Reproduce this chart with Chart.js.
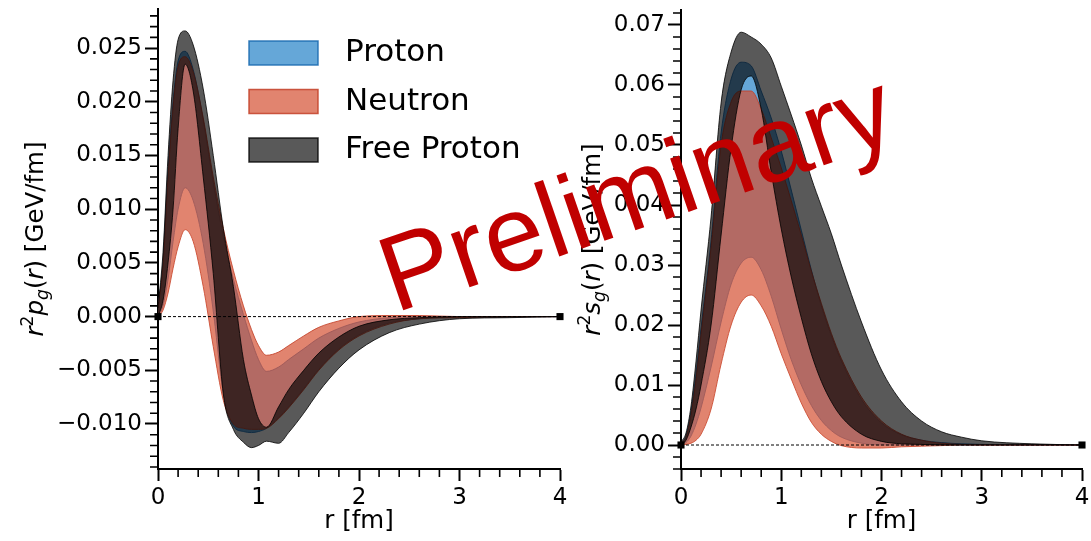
<!DOCTYPE html>
<html lang="en">
<head>
<meta charset="UTF-8">
<title>Gluon pressure and shear distributions</title>
<script src="https://cdn.jsdelivr.net/npm/chart.js"></script>
<style>
  html, body { margin: 0; padding: 0; background: #fff; }
  .wrap { position: relative; width: 1091px; height: 541px; overflow: hidden; }
  .wrap canvas { position: absolute; left: 0; top: 0; }
</style>
</head>
<body>
<div class="wrap">
  <canvas id="pressureChart" width="1091" height="541"></canvas>
  <canvas id="shearChart" width="1091" height="541"></canvas>
</div>
<script>
// ---- data ----
const bandLabels = ['Proton', 'Neutron', 'Free Proton'];
const rTicks = [0, 1, 2, 3, 4];
const pTicks = [-0.010, -0.005, 0.000, 0.005, 0.010, 0.015, 0.020, 0.025];
const sTicks = [0.00, 0.01, 0.02, 0.03, 0.04, 0.05, 0.06, 0.07];

// left panel: r^2 p_g(r)
const pR =            [0, 0.05, 0.1, 0.15, 0.2, 0.27, 0.35, 0.45, 0.55, 0.65, 0.75, 0.85, 0.93, 1.0, 1.08, 1.2, 1.3, 1.45, 1.6, 1.8, 2.0, 2.3, 2.6, 3.0, 3.5, 4.0];
const pProtonHi =     [0.0008, 0.0050, 0.0135, 0.0200, 0.0238, 0.0247, 0.0230, 0.0183, 0.0125, 0.0075, 0.0035, 0.0002, -0.0022, -0.0040, -0.0051, -0.0047, -0.0040, -0.0030, -0.0020, -0.0011, -0.0005, -0.0001, 0, 0, 0, 0];
const pProtonLo =     [0, 0.0010, 0.0035, 0.0070, 0.0100, 0.0120, 0.0108, 0.0068, 0.0005, -0.0072, -0.0102, -0.0107, -0.0108, -0.0107, -0.0104, -0.0094, -0.0084, -0.0067, -0.0049, -0.0030, -0.0017, -0.0006, -0.0002, 0, 0, 0];
const pNeutronHi =    [0.0008, 0.0048, 0.0130, 0.0195, 0.0233, 0.0242, 0.0228, 0.0185, 0.0130, 0.0082, 0.0043, 0.0010, -0.0012, -0.0027, -0.0036, -0.0033, -0.0027, -0.0018, -0.0010, -0.0004, 0.0000, 0.0001, 0.0001, 0, 0, 0];
const pNeutronLo =    [0, 0.0006, 0.0022, 0.0045, 0.0065, 0.0081, 0.0070, 0.0028, -0.0028, -0.0078, -0.0100, -0.0104, -0.0105, -0.0105, -0.0104, -0.0095, -0.0085, -0.0068, -0.0050, -0.0031, -0.0018, -0.0007, -0.0002, -0.0001, 0, 0];
const pFreeHi =       [0.0008, 0.0060, 0.0150, 0.0220, 0.0258, 0.0266, 0.0253, 0.0212, 0.0150, 0.0082, 0.0028, -0.0040, -0.0073, -0.0095, -0.0103, -0.0084, -0.0068, -0.0050, -0.0034, -0.0019, -0.0009, -0.0003, -0.0001, 0, 0, 0];
const pFreeLo =       [0, 0.0015, 0.0050, 0.0100, 0.0175, 0.0235, 0.0210, 0.0130, 0.0040, -0.0072, -0.0105, -0.0117, -0.0122, -0.0120, -0.0116, -0.0118, -0.0108, -0.0090, -0.0070, -0.0048, -0.0031, -0.0015, -0.0007, -0.0002, -0.0001, 0];

// right panel: r^2 s_g(r)
const sR =            [0, 0.05, 0.1, 0.15, 0.2, 0.3, 0.4, 0.5, 0.6, 0.7, 0.8, 0.9, 1.0, 1.1, 1.2, 1.3, 1.4, 1.5, 1.6, 1.8, 2.0, 2.2, 2.4, 2.6, 2.8, 3.0, 3.5, 4.0];
const sProtonHi =     [0.0003, 0.0015, 0.0055, 0.0120, 0.0195, 0.0340, 0.0520, 0.0610, 0.0638, 0.0632, 0.0590, 0.0545, 0.0490, 0.0425, 0.0358, 0.0292, 0.0232, 0.0182, 0.0140, 0.0076, 0.0037, 0.0017, 0.0008, 0.0004, 0.0002, 0.0001, 0, 0];
const sProtonLo =     [0, 0.0004, 0.0015, 0.0035, 0.0062, 0.0130, 0.0205, 0.0268, 0.0303, 0.0313, 0.0292, 0.0248, 0.0193, 0.0142, 0.0100, 0.0066, 0.0041, 0.0024, 0.0013, 0.0003, 0, 0, 0, 0, 0, 0, 0, 0];
const sNeutronHi =    [0.0003, 0.0013, 0.0050, 0.0110, 0.0185, 0.0330, 0.0500, 0.0572, 0.0590, 0.0590, 0.0560, 0.0512, 0.0462, 0.0407, 0.0350, 0.0290, 0.0236, 0.0186, 0.0144, 0.0080, 0.0040, 0.0018, 0.0008, 0.0003, 0.0001, 0, 0, 0];
const sNeutronLo =    [0, 0.0001, 0.0003, 0.0008, 0.0018, 0.0060, 0.0135, 0.0200, 0.0238, 0.0250, 0.0232, 0.0198, 0.0152, 0.0110, 0.0070, 0.0038, 0.0018, 0.0006, -0.0001, -0.0005, -0.0005, -0.0003, -0.0002, -0.0001, 0, 0, 0, 0];
const sFreeHi =       [0.0005, 0.0020, 0.0065, 0.0140, 0.0225, 0.0380, 0.0570, 0.0655, 0.0688, 0.0680, 0.0668, 0.0645, 0.0598, 0.0550, 0.0500, 0.0445, 0.0398, 0.0352, 0.0300, 0.0205, 0.0125, 0.0072, 0.0040, 0.0022, 0.0013, 0.0007, 0.0002, 0];
const sFreeLo =       [0, 0.0008, 0.0030, 0.0060, 0.0100, 0.0200, 0.0350, 0.0495, 0.0592, 0.0615, 0.0560, 0.0455, 0.0360, 0.0280, 0.0212, 0.0152, 0.0106, 0.0072, 0.0047, 0.0018, 0.0006, 0.0002, 0.0001, 0, 0, 0, 0, 0];

// ---- styles ----
const fillColors = ['rgba(35, 130, 200, 0.7)', 'rgba(212, 80, 50, 0.7)', 'rgba(0, 0, 0, 0.65)'];
const edgeColors = ['rgba(25, 105, 175, 0.85)', 'rgba(195, 65, 40, 0.85)', 'rgba(0, 0, 0, 0.8)'];

Chart.defaults.font.family = "'DejaVu Sans', sans-serif";
Chart.defaults.color = '#000';

function fmtTick(v, digits) {
    if (Math.abs(v) < 1e-12) v = 0;
    const s = Math.abs(v).toFixed(digits);
    return v < 0 ? '\u2212' + s : s;
}

// one band = upper edge filled down to the lower edge (next dataset)
function band(idx, r, hi, lo, order) {
    const common = {
        borderColor: edgeColors[idx], borderWidth: 1, pointRadius: 0,
        cubicInterpolationMode: 'monotone', order: order
    };
    return [
        Object.assign({ label: bandLabels[idx], data: r.map((x, i) => ({ x: x, y: hi[i] })),
            fill: '+1', backgroundColor: fillColors[idx] }, common),
        Object.assign({ label: bandLabels[idx] + ' lower', data: r.map((x, i) => ({ x: x, y: lo[i] })),
            fill: false }, common)
    ];
}

function zeroLine() {
    return {
        label: 'zero', data: [{ x: 0, y: 0 }, { x: 4, y: 0 }],
        borderColor: '#000', borderWidth: 1, borderDash: [3, 2],
        pointStyle: 'rect', pointRadius: 5, pointBackgroundColor: '#000', pointBorderWidth: 0,
        fill: false, clip: false, order: 0
    };
}

function noPad(s) { s.paddingTop = 0; s.paddingBottom = 0; s.paddingLeft = 0; s.paddingRight = 0; }

function axes(yMin, yMax, yTicks, yDigits, yWidth) {
    const grid = { display: true, drawOnChartArea: false, drawTicks: true, tickLength: 13, tickWidth: 2, tickColor: '#000' };
    const border = { display: true, color: '#000', width: 2 };
    return {
        x: {
            type: 'linear', min: 0, max: 4,
            afterFit: s => { s.height = 72; noPad(s); },
            afterBuildTicks: s => { s.ticks = rTicks.map(v => ({ value: v })); },
            ticks: { callback: v => String(v), font: { size: 23 }, padding: 3, maxRotation: 0 },
            grid: Object.assign({}, grid, { tickLength: 12 }),
            border: border,
            title: { display: true, text: 'r [fm]', font: { size: 24.5 }, padding: { top: 0, bottom: 5 } }
        },
        y: {
            type: 'linear', min: yMin, max: yMax,
            afterFit: s => { s.width = yWidth; noPad(s); },
            afterBuildTicks: s => { s.ticks = yTicks.map(v => ({ value: v })); },
            ticks: { callback: v => fmtTick(v, yDigits), font: { size: 23 }, padding: 3 },
            grid: grid,
            border: border
        }
    };
}

// minor ticks drawn from the chart's own scales
const minorTicks = {
    id: 'minorTicks',
    afterDraw(chart, args, o) {
        const { ctx, chartArea } = chart;
        const xs = chart.scales.x, ys = chart.scales.y;
        ctx.save();
        ctx.strokeStyle = '#000';
        ctx.lineWidth = 1.6;
        ctx.beginPath();
        for (let k = Math.ceil(ys.min / o.yStep - 1e-9); k * o.yStep <= ys.max + 1e-12; k++) {
            const v = k * o.yStep;
            const q = v / o.yMajor;
            if (Math.abs(q - Math.round(q)) < 1e-6) continue;
            const py = ys.getPixelForValue(v);
            ctx.moveTo(chartArea.left - 8, py);
            ctx.lineTo(chartArea.left, py);
        }
        for (let k = 0; k * o.xStep <= xs.max + 1e-12; k++) {
            const v = k * o.xStep;
            const q = v / o.xMajor;
            if (Math.abs(q - Math.round(q)) < 1e-6) continue;
            const px = xs.getPixelForValue(v);
            ctx.moveTo(px, chartArea.bottom);
            ctx.lineTo(px, chartArea.bottom + 8);
        }
        ctx.stroke();
        ctx.restore();
    }
};

// y title with math italics, superscript and subscript
const yTitle = {
    id: 'yTitle',
    afterDraw(chart, args, o) {
        const { ctx, chartArea } = chart;
        const size = 24.5;
        const fam = "'DejaVu Sans', sans-serif";
        const segs = [
            { t: 'r', it: true }, { t: '2', sh: 'sup' }, { t: o.letter, it: true },
            { t: 'g', it: true, sh: 'sub' }, { t: '(' }, { t: 'r', it: true }, { t: ')' },
            { t: ' [GeV/fm]' }
        ];
        ctx.save();
        let total = 0;
        segs.forEach(s => {
            s.size = s.sh ? size * 0.7 : size;
            s.font = (s.it ? 'italic ' : '') + s.size + 'px ' + fam;
            ctx.font = s.font;
            s.w = ctx.measureText(s.t).width;
            total += s.w;
        });
        const cy = (chartArea.top + chartArea.bottom) / 2;
        ctx.translate(o.x, cy);
        ctx.rotate(-Math.PI / 2);
        ctx.fillStyle = '#000';
        ctx.textBaseline = 'alphabetic';
        let x = -total / 2;
        const base = size * 0.36;
        segs.forEach(s => {
            ctx.font = s.font;
            let dy = 0;
            if (s.sh === 'sup') dy = -size * 0.42;
            if (s.sh === 'sub') dy = size * 0.22;
            ctx.fillText(s.t, x, base + dy);
            x += s.w;
        });
        ctx.restore();
    }
};

// matplotlib-like legend inside the left axes
const bandLegend = {
    id: 'bandLegend',
    afterDraw(chart, args, o) {
        if (!o.show) return;
        const { ctx, chartArea } = chart;
        ctx.save();
        ctx.font = "31px 'DejaVu Sans', sans-serif";
        ctx.textBaseline = 'middle';
        bandLabels.forEach((lab, i) => {
            const cy = chartArea.top + 44 + i * 48.5;
            const x0 = chartArea.left + 91;
            ctx.fillStyle = '#fff';
            ctx.fillRect(x0, cy - 12, 69, 24);
            ctx.fillStyle = fillColors[i];
            ctx.fillRect(x0, cy - 12, 69, 24);
            ctx.strokeStyle = edgeColors[i];
            ctx.lineWidth = 1.5;
            ctx.strokeRect(x0, cy - 12, 69, 24);
            ctx.fillStyle = '#000';
            ctx.fillText(lab, chartArea.left + 187, cy);
        });
        ctx.restore();
    }
};

const watermark = {
    id: 'watermark',
    afterDraw(chart, args, o) {
        if (!o.show) return;
        const ctx = chart.ctx;
        ctx.save();
        ctx.translate(395, 313);
        ctx.rotate(-19 * Math.PI / 180);
        ctx.font = "107px 'Liberation Sans', Arial, sans-serif";
        ctx.fillStyle = '#c00000';
        ctx.textBaseline = 'alphabetic';
        ctx.fillText('Preliminary', 0, 0);
        ctx.restore();
    }
};

function makeChart(id, r, bands, yMin, yMax, yTicks, yDigits, yWidth, pad, pluginOpts) {
    const datasets = [zeroLine()]
        .concat(band(2, r, bands.freeHi, bands.freeLo, 1))
        .concat(band(1, r, bands.neutronHi, bands.neutronLo, 2))
        .concat(band(0, r, bands.protonHi, bands.protonLo, 3));
    return new Chart(document.getElementById(id).getContext('2d'), {
        type: 'line',
        data: { datasets: datasets },
        options: {
            responsive: false, animation: false, devicePixelRatio: 1,
            layout: { padding: pad },
            scales: axes(yMin, yMax, yTicks, yDigits, yWidth),
            plugins: Object.assign({ legend: { display: false }, tooltip: { enabled: false },
                filler: { propagate: false } }, pluginOpts)
        },
        plugins: [minorTicks, yTitle, bandLegend, watermark]
    });
}

makeChart('pressureChart', pR,
    { protonHi: pProtonHi, protonLo: pProtonLo, neutronHi: pNeutronHi, neutronLo: pNeutronLo, freeHi: pFreeHi, freeLo: pFreeLo },
    -0.01419, 0.02864, pTicks, 3, 158,
    { left: 0, right: 531, top: 9, bottom: 0 },
    { minorTicks: { yStep: 0.001, yMajor: 0.005, xStep: 0.2, xMajor: 1 },
      yTitle: { x: 34, letter: 'p' }, bandLegend: { show: true }, watermark: { show: false } });

makeChart('shearChart', sR,
    { protonHi: sProtonHi, protonLo: sProtonLo, neutronHi: sNeutronHi, neutronLo: sNeutronLo, freeHi: sFreeHi, freeLo: sFreeLo },
    -0.0040, 0.0725, sTicks, 2, 100,
    { left: 581, right: 9, top: 10, bottom: 0 },
    { minorTicks: { yStep: 0.002, yMajor: 0.01, xStep: 0.2, xMajor: 1 },
      yTitle: { x: 591, letter: 's' }, bandLegend: { show: false }, watermark: { show: true } });
</script>
</body>
</html>
